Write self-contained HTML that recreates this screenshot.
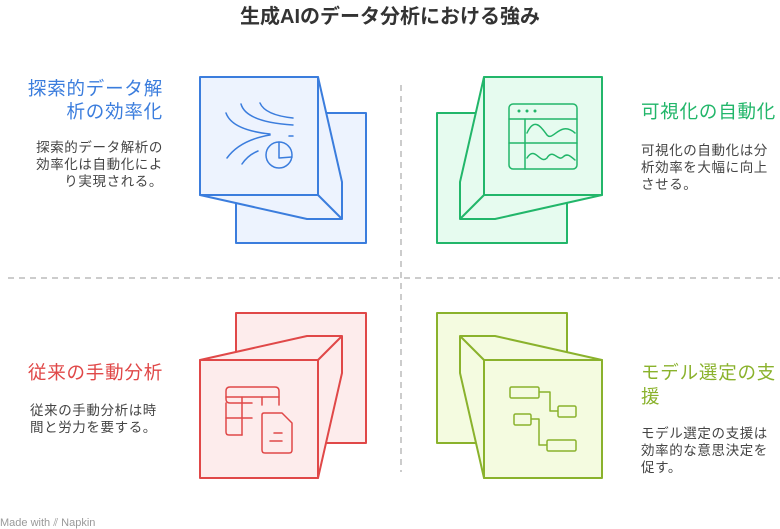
<!DOCTYPE html>
<html><head><meta charset="utf-8"><style>
body{margin:0;background:#fff;}
svg{display:block;font-family:"Liberation Sans","Noto Sans CJK JP",sans-serif;}
.t{font-size:18.5px;letter-spacing:0.8px}
.b{font-size:13.5px;fill:#444;letter-spacing:0.6px}
</style></head><body>
<svg width="780" height="529" viewBox="0 0 780 529" xmlns="http://www.w3.org/2000/svg">
<text x="390" y="23" text-anchor="middle" font-size="20" font-weight="bold" fill="#333">生成AIのデータ分析における強み</text>
<g stroke="#bbb" stroke-width="1.5" stroke-dasharray="6,5" fill="none">
<line x1="8" y1="278" x2="780" y2="278"/>
<line x1="401" y1="85" x2="401" y2="472"/>
</g>
<!-- blue -->
<g stroke="#3b7ddd" stroke-width="2" fill="#edf3fe" stroke-linejoin="round">
<rect x="236" y="113" width="130" height="130"/>
<polygon points="200,195 307,219 342,219 342,182 318,77 318,195"/>
<line x1="318" y1="195" x2="342" y2="219"/>
<rect x="200" y="77" width="118" height="118"/>
<g fill="none" stroke-width="1.5" stroke-linecap="round">
<path d="M226,113 Q232,130 270,134"/><path d="M241,104 Q246,122 293,125"/><path d="M260,103 Q265,115 293,118"/>
<path d="M227,158 Q240,140 270,135"/><path d="M242,164 Q248,155 258,151"/>
<circle cx="279" cy="155" r="13"/><path d="M279,142 V158 L292,157"/><line x1="289" y1="136" x2="293" y2="136"/>
</g>
</g>
<!-- green -->
<g stroke="#22b66a" stroke-width="2" fill="#e6fbef" stroke-linejoin="round">
<rect x="437" y="113" width="130" height="130"/>
<polygon points="484,77 460,182 460,219 495,219 602,195 484,195"/>
<line x1="460" y1="219" x2="484" y2="195"/>
<rect x="484" y="77" width="118" height="118"/>
<g fill="none" stroke-width="1.5" stroke-linecap="round">
<rect x="509" y="104" width="68" height="65" rx="4"/>
<line x1="509" y1="119" x2="577" y2="119"/><line x1="525" y1="119" x2="525" y2="169"/><line x1="509" y1="143" x2="577" y2="143"/>
<path d="M527,133 C535,115 543,130 547,135 C553,142 560,120 575,133"/>
<path d="M527,158 C535,145 540,165 547,158 C553,148 558,162 563,157 C568,152 572,158 575,160"/>
</g>
<g fill="#22b66a" stroke="none"><circle cx="519" cy="111" r="1.5"/><circle cx="527" cy="111" r="1.5"/><circle cx="535" cy="111" r="1.5"/></g>
</g>
<!-- red -->
<g stroke="#e04848" stroke-width="2" fill="#fdecec" stroke-linejoin="round">
<rect x="236" y="313" width="130" height="130"/>
<polygon points="200,360 307,336 342,336 342,373 318,478 318,360"/>
<line x1="342" y1="336" x2="318" y2="360"/>
<rect x="200" y="360" width="118" height="118"/>
<g fill="none" stroke-width="1.5" stroke-linecap="round">
<path d="M252,403 H230 Q226,403 226,399 V391 Q226,387 230,387 H275 Q279,387 279,391 V405"/>
<line x1="226" y1="397" x2="279" y2="397"/><line x1="226" y1="418" x2="252" y2="418"/><line x1="242" y1="397" x2="242" y2="435"/><line x1="262" y1="397" x2="262" y2="405"/>
<path d="M242,435 H229 Q226,435 226,432 V403"/>
<path d="M262,415 Q262,413 264,413 H282 L292,423 V450 Q292,453 289,453 H265 Q262,453 262,450 Z"/>
<line x1="274" y1="433" x2="282" y2="433"/><line x1="270" y1="441" x2="282" y2="441"/>
</g>
</g>
<!-- olive -->
<g stroke="#8ab22c" stroke-width="2" fill="#f4fbe0" stroke-linejoin="round">
<rect x="437" y="313" width="130" height="130"/>
<polygon points="460,336 495,336 602,360 484,360 484,478 460,373"/>
<line x1="460" y1="336" x2="484" y2="360"/>
<rect x="484" y="360" width="118" height="118"/>
<g fill="none" stroke-width="1.5">
<rect x="510" y="387" width="29" height="11" rx="1.5"/><rect x="558" y="406" width="18" height="11" rx="1.5"/>
<rect x="514" y="414" width="17" height="11" rx="1.5"/><rect x="547" y="440" width="29" height="11" rx="1.5"/>
<path d="M539,392 H550 V411 H558"/><path d="M531,419 H539 V445 H547"/>
</g>
</g>
<!-- texts -->
<text class="t" fill="#3b7ddd" text-anchor="end"><tspan x="163" y="95">探索的データ解</tspan><tspan x="163" y="118">析の効率化</tspan></text>
<text class="b" text-anchor="end"><tspan x="163" y="152">探索的データ解析の</tspan><tspan x="163" y="169">効率化は自動化によ</tspan><tspan x="163" y="186">り実現される。</tspan></text>
<text class="t" fill="#22b66a" x="641" y="118">可視化の自動化</text>
<text class="b"><tspan x="641" y="155">可視化の自動化は分</tspan><tspan x="641" y="172">析効率を大幅に向上</tspan><tspan x="641" y="189">させる。</tspan></text>
<text class="t" fill="#e04848" text-anchor="end" x="163" y="379">従来の手動分析</text>
<text class="b"><tspan x="30" y="415">従来の手動分析は時</tspan><tspan x="30" y="432">間と労力を要する。</tspan></text>
<text class="t" fill="#8ab22c"><tspan x="641" y="379">モデル選定の支</tspan><tspan x="641" y="403">援</tspan></text>
<text class="b"><tspan x="641" y="438">モデル選定の支援は</tspan><tspan x="641" y="455">効率的な意思決定を</tspan><tspan x="641" y="472">促す。</tspan></text>
<text x="0" y="526" font-size="11" fill="#999">Made with ⫽ Napkin</text>
</svg>
</body></html>
